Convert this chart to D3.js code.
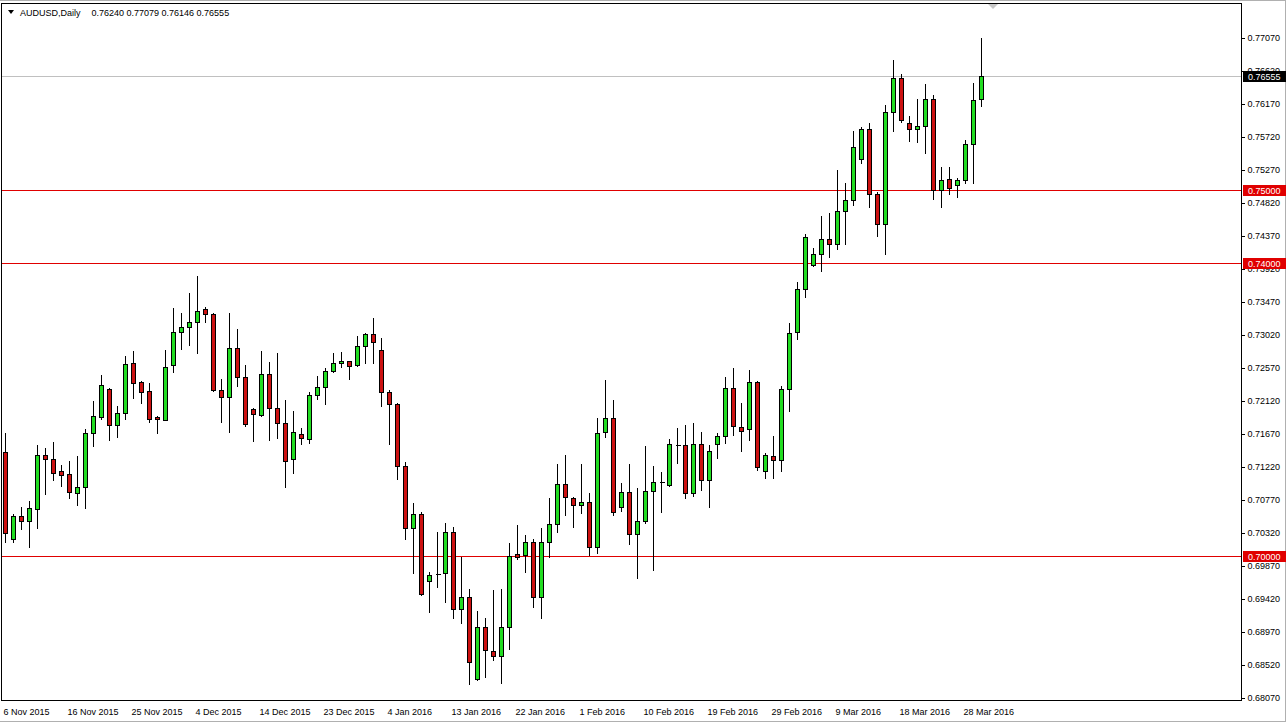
<!DOCTYPE html>
<html><head><meta charset="utf-8">
<script src="https://cdn.jsdelivr.net/npm/d3@7"></script>
<style>
body{margin:0;background:#fff;overflow:hidden;}
svg{display:block;}
text{font-family:"Liberation Sans",Arial,sans-serif;}
</style>
</head><body>
<svg id="chart" width="1287" height="724"></svg>
<script>
// ---------- DATA ----------
const symbolTitle = "AUDUSD,Daily";
const dates = [
"2015-11-06","2015-11-08","2015-11-09","2015-11-10","2015-11-11","2015-11-12","2015-11-13","2015-11-15","2015-11-16","2015-11-17",
"2015-11-18","2015-11-19","2015-11-20","2015-11-22","2015-11-23","2015-11-24","2015-11-25","2015-11-26","2015-11-27","2015-11-29",
"2015-11-30","2015-12-01","2015-12-02","2015-12-03","2015-12-04","2015-12-06","2015-12-07","2015-12-08","2015-12-09","2015-12-10",
"2015-12-11","2015-12-13","2015-12-14","2015-12-15","2015-12-16","2015-12-17","2015-12-18","2015-12-20","2015-12-21","2015-12-22",
"2015-12-23","2015-12-24","2015-12-27","2015-12-28","2015-12-29","2015-12-30","2015-12-31","2016-01-03","2016-01-04","2016-01-05",
"2016-01-06","2016-01-07","2016-01-08","2016-01-10","2016-01-11","2016-01-12","2016-01-13","2016-01-14","2016-01-15","2016-01-17",
"2016-01-18","2016-01-19","2016-01-20","2016-01-21","2016-01-22","2016-01-24","2016-01-25","2016-01-26","2016-01-27","2016-01-28",
"2016-01-29","2016-01-31","2016-02-01","2016-02-02","2016-02-03","2016-02-04","2016-02-05","2016-02-07","2016-02-08","2016-02-09",
"2016-02-10","2016-02-11","2016-02-12","2016-02-14","2016-02-15","2016-02-16","2016-02-17","2016-02-18","2016-02-19","2016-02-21",
"2016-02-22","2016-02-23","2016-02-24","2016-02-25","2016-02-26","2016-02-28","2016-02-29","2016-03-01","2016-03-02","2016-03-03",
"2016-03-04","2016-03-06","2016-03-07","2016-03-08","2016-03-09","2016-03-10","2016-03-11","2016-03-13","2016-03-14","2016-03-15",
"2016-03-16","2016-03-17","2016-03-18","2016-03-20","2016-03-21","2016-03-22","2016-03-23","2016-03-24","2016-03-25","2016-03-27",
"2016-03-28","2016-03-29","2016-03-30"];

const openP = [
.71429,.70234,.70552,.70488,.70643,.71384,.71325,.71166,.71125,.70870,
.70952,.71680,.71906,.72280,.71789,.71952,.72634,.72379,.72252,.71898,
.71861,.72607,.73057,.73125,.73193,.73370,.73302,.72270,.72179,.72839,
.72443,.72011,.71929,.72484,.72021,.71816,.71325,.71666,.71598,.72198,
.72307,.72529,.72634,.72665,.72607,.72866,.73034,.72811,.72239,.72075,
.71227,.70384,.70575,.69670,.69757,.69771,.70330,.69280,.69452,.68329,
.69042,.68715,.68647,.69042,.70030,.70020,.70202,.69452,.70193,.70439,
.70984,.70797,.70698,.70739,.70125,.71693,.71884,.70670,.70875,.70302,
.70488,.70889,.71020,.70971,.71525,.71516,.70870,.71530,.71043,.71530,
.71647,.72293,.71770,.71733,.72375,.71161,.71366,.71311,.72280,.73057,
.73643,.73975,.74125,.74325,.74257,.74707,.74857,.75416,.75825,.74939,
.74530,.76057,.76520,.75907,.75833,.75866,.76234,.74997,.75143,.75070,
.75134,.75620,.76240];
const highP = [
.71697,.70589,.70688,.70770,.71534,.71497,.71575,.71261,.71316,.71384,
.71748,.72134,.72488,.72315,.72061,.72747,.72816,.72406,.72379,.71929,
.72825,.73406,.73338,.73611,.73838,.73416,.73338,.72430,.73338,.73111,
.72625,.72042,.72816,.72665,.72784,.72143,.71997,.71761,.72261,.72475,
.72588,.72792,.72806,.72679,.73020,.73065,.73270,.72989,.72280,.72106,
.71298,.70739,.70624,.69798,.70347,.70470,.70415,.70011,.69566,.69270,
.69170,.69552,.69566,.70193,.70443,.70306,.70248,.70406,.70815,.71279,
.71397,.70825,.71279,.70879,.71906,.72420,.72147,.71015,.71270,.70952,
.71516,.71247,.71170,.71611,.71761,.71806,.71838,.71711,.71527,.71701,
.72461,.72588,.72111,.72556,.72406,.71429,.71656,.72338,.73201,.73756,
.74407,.74224,.74656,.74700,.75280,.75106,.75815,.75870,.75929,.74988,
.76170,.76784,.76597,.76020,.76248,.76460,.76302,.75325,.75325,.75170,
.75689,.76466,.77079];
const lowP = [
.70202,.70202,.70371,.70133,.70384,.70852,.71043,.70961,.70793,.70702,
.70665,.71506,.71871,.71588,.71633,.71871,.72157,.72089,.71838,.71688,
.71855,.72520,.72825,.72884,.72771,.73201,.72260,.71838,.71701,.72325,
.71779,.71579,.71920,.71588,.71611,.70952,.71134,.71534,.71551,.72143,
.72075,.72520,.72588,.72416,.72600,.72642,.72642,.72052,.71534,.71052,
.70234,.69779,.69475,.69247,.69580,.69383,.69165,.69089,.68261,.68320,
.68361,.68588,.68271,.68734,.69961,.69792,.69315,.69165,.69997,.70330,
.70570,.70406,.70589,.70016,.70051,.71625,.70565,.70624,.70166,.69702,
.70452,.69815,.70611,.70960,.71270,.70793,.70825,.70906,.70670,.71339,
.71551,.71656,.71442,.71588,.71179,.71066,.71066,.71170,.71988,.72970,
.73542,.73960,.73897,.74088,.74197,.74257,.74793,.75370,.74770,.74374,
.74125,.75802,.75920,.75670,.75652,.75498,.74870,.74761,.74943,.74906,
.75089,.75089,.76146];
const closeP = [
.70324,.70552,.70488,.70657,.71384,.71325,.71142,.71111,.70883,.70943,
.71680,.71916,.72334,.71789,.71952,.72621,.72370,.72247,.71879,.71871,
.72588,.73057,.73125,.73193,.73343,.73302,.72270,.72171,.72839,.72443,
.71806,.71939,.72484,.72021,.71816,.71306,.71693,.71611,.72198,.72307,
.72529,.72634,.72661,.72597,.72866,.73030,.72920,.72239,.72075,.71227,
.70384,.70575,.69484,.69743,.69757,.70330,.69280,.69452,.68565,.69042,
.68725,.68647,.69042,.70011,.69993,.70202,.69452,.70193,.70439,.70984,
.70807,.70698,.70739,.70125,.71680,.71884,.70611,.70875,.70302,.70488,
.70889,.71011,.71020,.71530,.71525,.70870,.71530,.71039,.71434,.71647,
.72293,.71783,.71715,.72375,.71224,.71380,.71311,.72280,.73043,.73643,
.74352,.74125,.74325,.74257,.74707,.74857,.75580,.75825,.74939,.74530,
.76057,.76520,.75956,.75825,.75866,.76234,.74997,.75134,.75020,.75134,
.75620,.76220,.76555];

const priceTicks = [0.77070,0.76620,0.76170,0.75720,0.75270,0.74820,0.74370,0.73920,0.73470,0.73020,
  0.72570,0.72120,0.71670,0.71220,0.70770,0.70320,0.69870,0.69420,0.68970,0.68520,0.68070];
const dateTicks = ["2015-11-06","2015-11-16","2015-11-25","2015-12-04","2015-12-14","2015-12-23","2016-01-04",
  "2016-01-13","2016-01-22","2016-02-01","2016-02-10","2016-02-19","2016-02-29","2016-03-09","2016-03-18","2016-03-28"];
const levelLines = [0.75000, 0.74000, 0.70000];
const bidPrice = 0.76555;

// ---------- DRAW ----------
const svg = d3.select("#chart");
const W = 1287, H = 724;
const plot = {left: 2, top: 4, right: 1242, bottom: 701};

svg.append("rect").attr("width", W).attr("height", H).attr("fill", "#fff");

const x = d3.scaleLinear().domain([0, dates.length - 1]).range([5.5, 981.5]);
const y = d3.scaleLinear().domain([0.68070, 0.77070]).range([698, 38]);
const py = v => Math.round(y(v)) + 0.5;

const candles = dates.map((d, i) => ({
  date: d, i, o: openP[i], h: highP[i], l: lowP[i], c: closeP[i]
}));

svg.append("clipPath").attr("id", "clip").append("rect")
  .attr("x", plot.left).attr("y", plot.top)
  .attr("width", plot.right - plot.left).attr("height", plot.bottom - plot.top);

const g = svg.append("g").attr("clip-path", "url(#clip)").attr("shape-rendering", "crispEdges");

// bid line
g.append("line").attr("x1", plot.left).attr("x2", plot.right)
  .attr("y1", py(bidPrice)).attr("y2", py(bidPrice))
  .attr("stroke", "#c0c0c0").attr("stroke-width", 1);

// level lines
g.selectAll("line.level").data(levelLines).join("line").attr("class", "level")
  .attr("x1", plot.left).attr("x2", plot.right)
  .attr("y1", d => py(d)).attr("y2", d => py(d))
  .attr("stroke", "#e00000").attr("stroke-width", 1);

// wicks
g.selectAll("line.wick").data(candles).join("line").attr("class", "wick")
  .attr("x1", d => x(d.i)).attr("x2", d => x(d.i))
  .attr("y1", d => py(d.h)).attr("y2", d => py(d.l))
  .attr("stroke", "#000").attr("stroke-width", 1);

// bodies
const bodies = candles.filter(d => Math.abs(py(d.o) - py(d.c)) >= 1);
g.selectAll("rect.body").data(bodies).join("rect").attr("class", "body")
  .attr("x", d => x(d.i) - 2)
  .attr("width", 4)
  .attr("y", d => Math.min(py(d.o), py(d.c)))
  .attr("height", d => Math.abs(py(d.o) - py(d.c)))
  .attr("fill", d => d.c >= d.o ? "#22dd22" : "#cc1111")
  .attr("stroke", "#000").attr("stroke-width", 1);

// dojis
const dojis = candles.filter(d => Math.abs(py(d.o) - py(d.c)) < 1);
g.selectAll("line.doji").data(dojis).join("line").attr("class", "doji")
  .attr("x1", d => x(d.i) - 2).attr("x2", d => x(d.i) + 3)
  .attr("y1", d => py(d.c)).attr("y2", d => py(d.c))
  .attr("stroke", "#000").attr("stroke-width", 1);

// frame
svg.append("rect").attr("x", plot.left - 0.5).attr("y", plot.top - 0.5)
  .attr("width", plot.right - plot.left).attr("height", plot.bottom - plot.top)
  .attr("fill", "none").attr("stroke", "#000").attr("shape-rendering", "crispEdges");

// window edges
svg.append("line").attr("x1", 1285.5).attr("x2", 1285.5).attr("y1", 0).attr("y2", 722)
  .attr("stroke", "#b0b0b0").attr("shape-rendering", "crispEdges");
svg.append("line").attr("x1", 0).attr("x2", 1286).attr("y1", 721.5).attr("y2", 721.5)
  .attr("stroke", "#b0b0b0").attr("shape-rendering", "crispEdges");
svg.append("line").attr("x1", 0).attr("x2", 1286).attr("y1", 0.5).attr("y2", 0.5)
  .attr("stroke", "#b0b0b0").attr("shape-rendering", "crispEdges");

// shift marker triangle
svg.append("path").attr("d", "M988,4 L998,4 L993,9 Z").attr("fill", "#c8c8c8");

// right price axis
const yAxis = d3.axisRight(y).tickValues(priceTicks).tickSize(3).tickPadding(3)
  .tickFormat(d3.format(".5f"));
const ya = svg.append("g").attr("transform", `translate(${plot.right - 0.5},0)`).call(yAxis);
ya.select(".domain").remove();
ya.selectAll(".tick line").attr("stroke", "#000").attr("shape-rendering", "crispEdges");
ya.selectAll(".tick text").attr("font-size", 9).attr("fill", "#000")
  .attr("font-family", "'Liberation Sans', Arial, sans-serif").attr("x", 6);

// price boxes
const boxes = levelLines.map(v => ({v, fill: "#e00000"})).concat([{v: bidPrice, fill: "#000"}]);
const bx = svg.selectAll("g.pbox").data(boxes).join("g").attr("class", "pbox");
bx.append("rect").attr("x", plot.right + 1).attr("width", 43)
  .attr("y", d => py(d.v) - 6).attr("height", 11)
  .attr("fill", d => d.fill).attr("shape-rendering", "crispEdges");
bx.append("text").attr("x", plot.right + 6).attr("y", d => py(d.v) + 3.5)
  .attr("font-size", 9).attr("fill", "#fff").text(d => d3.format(".5f")(d.v));

// bottom date labels
const parse = d3.timeParse("%Y-%m-%d");
const fmt = d3.timeFormat("%-d %b %Y");
svg.selectAll("text.date").data(dateTicks).join("text").attr("class", "date")
  .attr("x", d => x(dates.indexOf(d)) - 2).attr("y", 714.5)
  .attr("font-size", 9).attr("fill", "#000").text(d => fmt(parse(d)));

// title
svg.append("path").attr("d", "M8,10 L14,10 L11,14 Z").attr("fill", "#000");
const last = candles[candles.length - 1];
svg.append("text").attr("x", 20).attr("y", 16).attr("font-size", 9).attr("fill", "#000")
  .text(symbolTitle);
svg.append("text").attr("x", 91.5).attr("y", 16).attr("font-size", 9).attr("fill", "#000")
  .attr("xml:space", "preserve")
  .text([last.o, last.h, last.l, last.c].map(d3.format(".5f")).join(" "));
</script>
</body></html>
